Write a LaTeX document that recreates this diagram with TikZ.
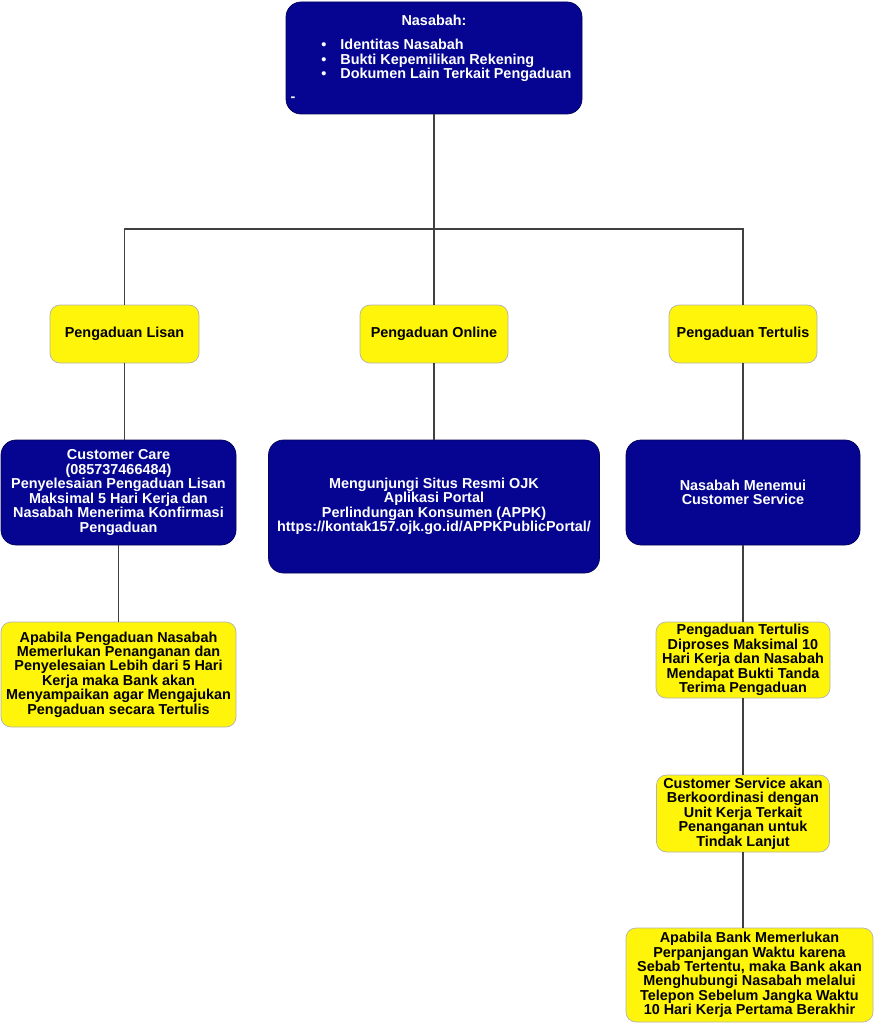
\documentclass[tikz,border=0pt]{standalone}
\usepackage{fontspec}
\setmainfont{Liberation Sans}
\usepackage{xcolor}
\definecolor{biru}{RGB}{5,5,145}
\definecolor{kuning}{RGB}{255,245,10}
\tikzset{
  kotak/.style={rectangle,inner sep=0pt,align=center,
    font=\bfseries\fontsize{8.2}{8.2}\selectfont},
  kotakbiru/.style={kotak,fill=biru,draw=biru!60!black,text=white,rounded corners=15*0.02cm},
  kotakkuning/.style={kotak,fill=kuning,draw=black!30,text=black,rounded corners=10*0.02cm},
  garis/.style={draw=black!75,line width=0.8pt}
}

\begin{document}
\begin{tikzpicture}[x=0.02cm,y=-0.02cm]
              \useasboundingbox (0,0) rectangle (874,1024);
              \node[kotakbiru,minimum width=296*0.02cm,minimum height=112*0.02cm] (nasabah) at (434,58) {};
              \node[kotak,text=white] (judul) at (434,20) {Nasabah:};
              \node[kotak,text=white,align=left,anchor=north west] (daftar) at (321,39)
                {\textbullet\hspace{8pt}Identitas Nasabah\\
                 \textbullet\hspace{8pt}Bukti Kepemilikan Rekening\\
                 \textbullet\hspace{8pt}Dokumen Lain Terkait Pengaduan};
              \node[kotak,text=white] (strip) at (293,99) {-};

              \node[kotakkuning,minimum width=149*0.02cm,minimum height=58*0.02cm] (lisan) at (124.5,334) {Pengaduan Lisan};
              \node[kotakkuning,minimum width=148*0.02cm,minimum height=58*0.02cm] (online) at (434,334) {Pengaduan Online};
              \node[kotakkuning,minimum width=148*0.02cm,minimum height=58*0.02cm] (tertulis) at (743,334) {Pengaduan Tertulis};

              \node[kotakbiru,minimum width=235*0.02cm,minimum height=105*0.02cm] (care) at (118.5,492.5)
                {Customer Care\\(085737466484)\\Penyelesaian Pengaduan Lisan\\Maksimal 5 Hari Kerja dan\\Nasabah Menerima Konfirmasi\\Pengaduan};
              \node[kotakbiru,minimum width=331*0.02cm,minimum height=133*0.02cm] (situs) at (434,506.5)
                {Mengunjungi Situs Resmi OJK\\Aplikasi Portal\\Perlindungan Konsumen (APPK)\\https://kontak157.ojk.go.id/APPKPublicPortal/};
              \node[kotakbiru,minimum width=234*0.02cm,minimum height=105*0.02cm] (menemui) at (743,492.5)
                {Nasabah Menemui\\Customer Service};

              \node[kotakkuning,minimum width=235*0.02cm,minimum height=105*0.02cm] (lebih) at (118.5,674.5)
                {Apabila Pengaduan Nasabah\\Memerlukan Penanganan dan\\Penyelesaian Lebih dari 5 Hari\\Kerja maka Bank akan\\Menyampaikan agar Mengajukan\\Pengaduan secara Tertulis};
              \node[kotakkuning,minimum width=174*0.02cm,minimum height=76*0.02cm] (diproses) at (743,660)
                {Pengaduan Tertulis\\Diproses Maksimal 10\\Hari Kerja dan Nasabah\\Mendapat Bukti Tanda\\Terima Pengaduan};
              \node[kotakkuning,minimum width=173*0.02cm,minimum height=77*0.02cm] (koordinasi) at (743,813.5)
                {Customer Service akan\\Berkoordinasi dengan\\Unit Kerja Terkait\\Penanganan untuk\\Tindak Lanjut};
              \node[kotakkuning,minimum width=247*0.02cm,minimum height=94*0.02cm] (perpanjang) at (749.5,975)
                {Apabila Bank Memerlukan\\Perpanjangan Waktu karena\\Sebab Tertentu, maka Bank akan\\Menghubungi Nasabah melalui\\Telepon Sebelum Jangka Waktu\\10 Hari Kerja Pertama Berakhir};

              \coordinate (cabang) at (434,229);
              \draw[garis] (nasabah.south) -- (cabang);
              \draw[garis] (lisan.north) |- (cabang) -| (tertulis.north);
              \draw[garis] (cabang) -- (online.north);
              \draw[garis] (lisan.south) -- (lisan.south |- care.north);
              \draw[garis] (online.south) -- (situs.north);
              \draw[garis] (tertulis.south) -- (menemui.north);
              \draw[garis] (care.south) -- (lebih.north);
              \draw[garis] (menemui.south) -- (diproses.north);
              \draw[garis] (diproses.south) -- (koordinasi.north);
              \draw[garis] (koordinasi.south) -- (koordinasi.south |- perpanjang.north);
        \end{tikzpicture}
\end{document}
